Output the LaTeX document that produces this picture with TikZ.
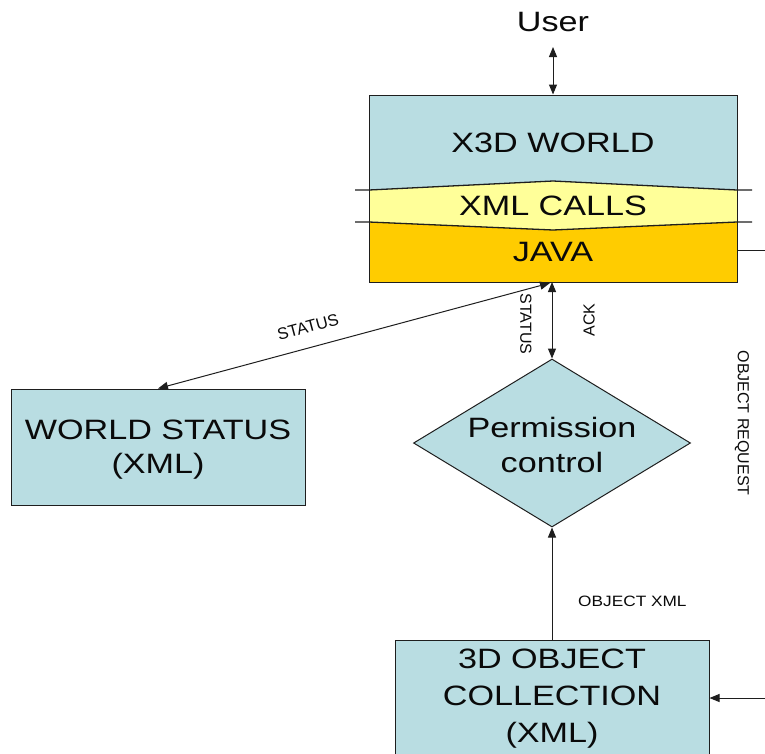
\documentclass[tikz,border=0pt]{standalone}
\usepackage{fontspec}
\setmainfont{Liberation Sans}
\usetikzlibrary{arrows.meta,shapes.geometric}

\definecolor{boxblue}{RGB}{185,221,226}
\definecolor{callyellow}{RGB}{255,255,153}
\definecolor{javaorange}{RGB}{255,204,0}
\definecolor{inkline}{RGB}{30,30,30}
\definecolor{inktext}{RGB}{10,10,10}

\tikzset{
  flowbox/.style={draw=inkline, line width=1pt, fill=boxblue, inner sep=0pt},
  bigtext/.style={text=inktext, inner sep=0pt, align=center, xscale=1.22,
    font=\fontsize{28}{35}\selectfont},
  smalltext/.style={text=inktext, inner sep=0pt,
    font=\fontsize{16}{18}\selectfont},
  link/.style={draw=inkline, line width=1pt},
  tip/.tip={Triangle[length=10pt,width=8pt]},
}

\begin{document}
\begin{tikzpicture}[x=1pt,y=-1pt]
\useasboundingbox (0,0) rectangle (765,753);
\clip (0,0) rectangle (765,753);

% layered X3D world block: blue, yellow and orange bands
\fill[boxblue] (369,95) -- (737,95) -- (737,190) -- (553,181) -- (369,190) -- cycle;
\fill[callyellow] (369,190) -- (553,181) -- (737,190) -- (737,222) -- (553,230) -- (369,222) -- cycle;
\fill[javaorange] (369,222) -- (553,230) -- (737,222) -- (737,282) -- (369,282) -- cycle;
\draw[link, line width=1.3pt] (355,190) -- (369,190) -- (553,181) -- (737,190) -- (752,190);
\draw[link, line width=1.3pt] (355,222) -- (369,222) -- (553,230) -- (737,222) -- (752,222);
\node[draw=inkline, line width=1pt, minimum width=368pt, minimum height=187pt, inner sep=0pt]
  (world) at (553,188.5) {};
\node[bigtext] (x3d) at (553,143) {X3D WORLD};
\node[bigtext] (xmlcalls) at (553,206) {XML CALLS};
\node[bigtext] (java) at (553,252) {JAVA};

% user on top
\node[bigtext] (user) at (553,22) {User};
\draw[link, tip-tip] (553,47) -- (world.north);

% other boxes
\node[flowbox, minimum width=294pt, minimum height=116pt] (wstatus) at (158,447) {};
\node[bigtext, font=\fontsize{28}{34}\selectfont] (wstatustext) at (158,450) {WORLD STATUS\\(XML)};

\node[flowbox, diamond, minimum width=277pt, minimum height=168pt] (perm) at (552,443) {};
\node[bigtext] (permtext) at (552,445) {Permission\\control};

\node[flowbox, minimum width=314pt, minimum height=160pt] (coll) at (552,720) {};
\node[bigtext, font=\fontsize{28}{37}\selectfont] (colltext) at (552,699) {3D OBJECT\\COLLECTION\\(XML)};

% connectors
\draw[link, tip-tip] (552,282) -- (perm.north);
\draw[link, tip-tip] (wstatus.north) -- (550,283);
\node[smalltext, rotate=15, font=\fontsize{16.5}{18}\selectfont] (statusdiag) at (308,327) {STATUS};
\node[smalltext, rotate=-90] (statusv) at (526,324) {STATUS};
\node[smalltext, rotate=90] (ack) at (589,320) {ACK};

\draw[link, -tip] (coll.north) -- (perm.south);
\node[smalltext, anchor=west, xscale=1.15, font=\fontsize{15}{18}\selectfont] (objxml) at (578,601) {OBJECT XML};

% object request loop leaving and re-entering on the right
\coordinate (reqout) at (765,250);
\coordinate (reqin) at (765,698);
\draw[link] (reqout -| world.east) -- (reqout);
\draw[link, -tip] (reqin) -- (reqin -| coll.east);
\node[smalltext, rotate=-90] (objreq) at (742,423) {OBJECT REQUEST};

\end{tikzpicture}
\end{document}
